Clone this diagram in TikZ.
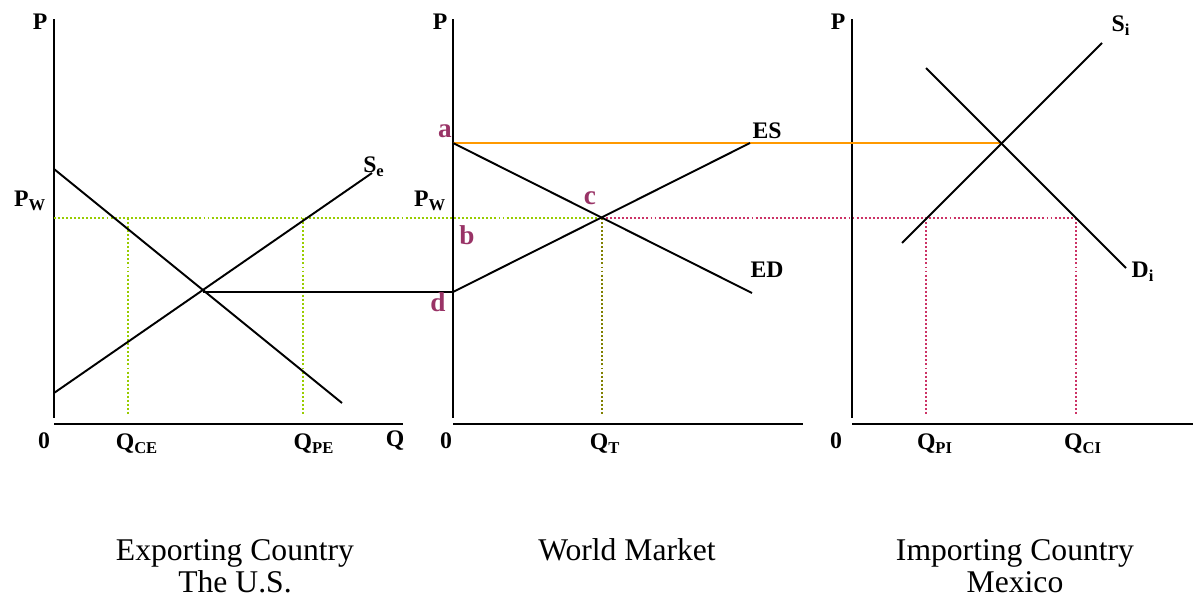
\documentclass[tikz,border=0pt]{standalone}
\usepackage{fontspec}
\setmainfont{Liberation Serif}
\definecolor{plum}{RGB}{153,51,102}
\definecolor{pwgreen}{RGB}{153,204,0}
\definecolor{qtolive}{RGB}{128,128,0}
\definecolor{imppink}{RGB}{204,51,102}
\definecolor{worldorange}{RGB}{255,153,0}
\tikzset{
	lbl/.style={font=\fontsize{13.5}{15}\selectfont\bfseries, inner sep=0pt},
	pt/.style={font=\fontsize{15.5}{17}\selectfont\bfseries, text=plum, inner sep=0pt},
	caption/.style={font=\fontsize{18}{18.2}\selectfont, align=center, inner sep=0pt},
	dots/.style={line width=1.1pt, dash pattern=on 1.1pt off 1.2pt, line cap=butt},
	curve/.style={line width=1.1pt}
}
\begin{document}
\begin{tikzpicture}[x=0.02cm, y=-0.02cm, line join=round, line cap=butt]
			\useasboundingbox (0,0) rectangle (1193,603);
			% axes
			\foreach \x/\w in {54/403, 453/803, 852/1193}{
				\draw[line width=1.6pt] (\x,19)--(\x,418);
				\draw[line width=1.6pt] (\x,424)--(\w,424);}
			% dotted guides
			\draw[dots, pwgreen] (54,218)--(602,218);
			\draw[dots, pwgreen] (128,218)--(128,416);
			\draw[dots, pwgreen] (303,218)--(303,416);
			\draw[dots, qtolive] (602,218)--(602,416);
			\draw[dots, imppink] (602,218)--(1076,218);
			\draw[dots, imppink] (926,218)--(926,416);
			\draw[dots, imppink] (1076,218)--(1076,416);
			% exporting country
			\draw[curve] (54,169)--(342,403);
			\draw[curve] (54,393)--(372,173);
			\draw[curve] (203,292) coordinate(E)--(453,292) coordinate(d);
			% world market
			\draw[line width=1.3pt, worldorange] (453,143) coordinate(a)--(1000,143) coordinate(I);
			\draw[curve] (a)--(752,293);
			\draw[curve] (d)--(750,143);
			% importing country
			\draw[curve] (902,243)--(1102,43);
			\draw[curve] (926,68)--(1126,268);
			% labels
			\foreach \x in {40,440,838}{\node[lbl] at (\x,22) {P};}
			\foreach \x in {44,446,836}{\node[lbl] at (\x,441) {0};}
			\node[lbl] at (30,201) {P\textsubscript{W}};
			\node[lbl] at (430,201) {P\textsubscript{W}};
			\node[lbl] at (374,167) {S\textsubscript{e}};
			\node[lbl] at (137,444) {Q\textsubscript{CE}};
			\node[lbl] at (314,444) {Q\textsubscript{PE}};
			\node[lbl] at (395,441) {Q};
			\node[lbl] at (767,131) {ES};
			\node[lbl] at (767,270) {ED};
			\node[lbl] at (605,444) {Q\textsubscript{T}};
			\node[lbl] at (1121,26) {S\textsubscript{i}};
			\node[lbl] at (1143,272) {D\textsubscript{i}};
			\node[lbl] at (935,444) {Q\textsubscript{PI}};
			\node[lbl] at (1083,444) {Q\textsubscript{CI}};
			\node[pt] at (445,131) {a};
			\node[pt] at (467,235) {b};
			\node[pt] at (590,198) {c};
			\node[pt] at (438,302) {d};
			% captions
			\node[caption] at (235,566) {Exporting Country\\The U.S.};
			\node[caption] at (627,550) {World Market};
			\node[caption] at (1015,566) {Importing Country\\Mexico};
		\end{tikzpicture}
\end{document}
